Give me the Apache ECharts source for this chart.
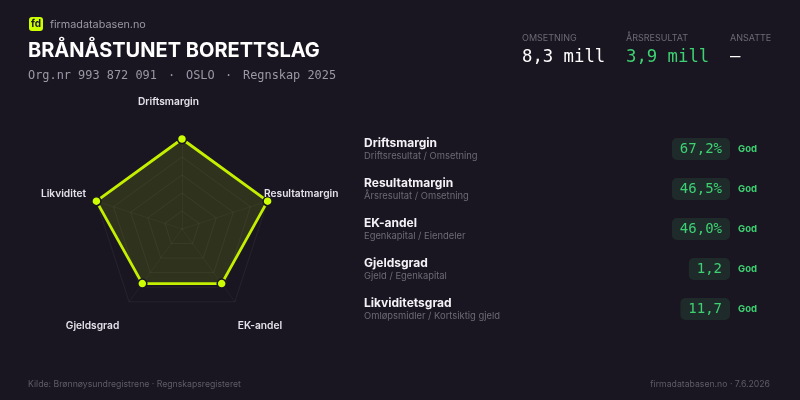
<!DOCTYPE html>
<html><head><meta charset="utf-8">
<style>html,body{margin:0;padding:0;background:#1a1621}#c{width:800px;height:400px}</style>
<script src="https://cdn.jsdelivr.net/npm/echarts@6/dist/echarts.min.js"></script>
</head><body><div id="c"></div>
<script>
const axisNames = ['Driftsmargin','Resultatmargin','EK-andel','Gjeldsgrad','Likviditet'];
const scores = [100,100,75,75,100];
const metricNames = ['Driftsmargin','Resultatmargin','EK-andel','Gjeldsgrad','Likviditetsgrad'];
const metricSubs = ['Driftsresultat / Omsetning','Årsresultat / Omsetning','Egenkapital / Eiendeler','Gjeld / Egenkapital','Omløpsmidler / Kortsiktig gjeld'];
const metricValues = ['67,2%','46,5%','46,0%','1,2','11,7'];
const metricGrades = ['God','God','God','God','God'];
const kpiLabels = ['OMSETNING','ÅRSRESULTAT','ANSATTE'];
const kpiValues = ['8,3 mill','3,9 mill','–'];
const subtitleParts = ['Org.nr 993 872 091','·','OSLO','·','Regnskap 2025'];

const BG = '#1a1621';
const SANS = 'Inter, "Noto Sans", sans-serif';
const MONO = '"DejaVu Sans Mono", monospace';
const LIME = '#c4f000', DOT = '#ccff00', GREEN = '#3dd172';
const T = (x,y,text,font,fill,align,extra) => ({type:'text',x,y,z:10,style:Object.assign({text,font,fill,align:align||'left',verticalAlign:'middle'},extra||{})});
const g = [];
g.push({type:'rect',z:10,shape:{x:29,y:17,width:14,height:14,r:3},style:{fill:DOT}});
g.push(T(36,24,'fd','bold 10px '+SANS,BG,'center'));
g.push(T(50,24.5,'firmadatabasen.no','10.8px '+SANS,'#9b97a4'));
g.push(T(28,51,'BRÅNÅSTUNET BORETTSLAG','bold 20px '+SANS,'#ffffff'));
const subX = [28,171.5,186,228.5,243], subA = ['left','center','left','center','left'];
subtitleParts.forEach((s,i)=>g.push(T(subX[i],76,s,'11.9px '+MONO,'#9b97a4',subA[i])));
const kx = [522,626,730], kc = ['#ffffff',GREEN,'#ffffff'];
kpiLabels.forEach((l,i)=>{
  g.push(T(kx[i],38,l,'9px '+SANS,'#6d6975'));
  g.push(T(kx[i],58,kpiValues[i],'17.3px '+MONO,kc[i]));
});
const labelPos = [[168.5,101.5,'center'],[264,193.5,'left'],[260,325.5,'center'],[92.5,325.5,'center'],[86,193.5,'right']];
axisNames.forEach((n,i)=>g.push(T(labelPos[i][0],labelPos[i][1],n,'600 10.2px '+SANS,'#e4e1ea',labelPos[i][2])));
const rowY = [149,189,229,269,309];
metricNames.forEach((n,i)=>{
  const y = rowY[i], w = metricValues[i].length*8.4+16;
  g.push(T(364,y-6,n,'bold 12px '+SANS,'#f4f2f7'));
  g.push(T(364,y+7.5,metricSubs[i],'9.4px '+SANS,'#6d6975'));
  g.push({type:'rect',z:9,shape:{x:730-w,y:y-11,width:w,height:22,r:5},style:{fill:'#1f2b2b'}});
  g.push(T(722,y+0.5,metricValues[i],'14px '+MONO,GREEN,'right'));
  g.push(T(738,y+0.5,metricGrades[i],'bold 9.5px '+SANS,GREEN));
});
g.push(T(28,384,'Kilde: Brønnøysundregistrene · Regnskapsregisteret','8.7px '+SANS,'#5f5b67'));
g.push(T(770,384,'firmadatabasen.no · 7.6.2026','8.7px '+SANS,'#5f5b67','right'));

const chart = echarts.init(document.getElementById('c'),null,{renderer:'canvas'});
chart.setOption({
  backgroundColor:BG,
  animation:false,
  radar:{
    center:[182,229],radius:90,startAngle:90,splitNumber:5,shape:'polygon',
    indicator:axisNames.map(name=>({name,max:100,min:0})),
    axisName:{show:false},
    splitArea:{show:false},
    splitLine:{lineStyle:{color:'rgba(255,255,255,0.055)',width:1}},
    axisLine:{lineStyle:{color:'rgba(255,255,255,0.04)',width:1}},
    axisTick:{show:false}
  },
  series:[{
    type:'radar',
    symbol:'circle',symbolSize:9,
    itemStyle:{color:DOT,borderColor:BG,borderWidth:1.5},
    lineStyle:{color:LIME,width:2.8},
    areaStyle:{color:LIME,opacity:0.13},
    data:[{value:scores,name:'Score'}]
  }],
  graphic:g
});
</script></body></html>
